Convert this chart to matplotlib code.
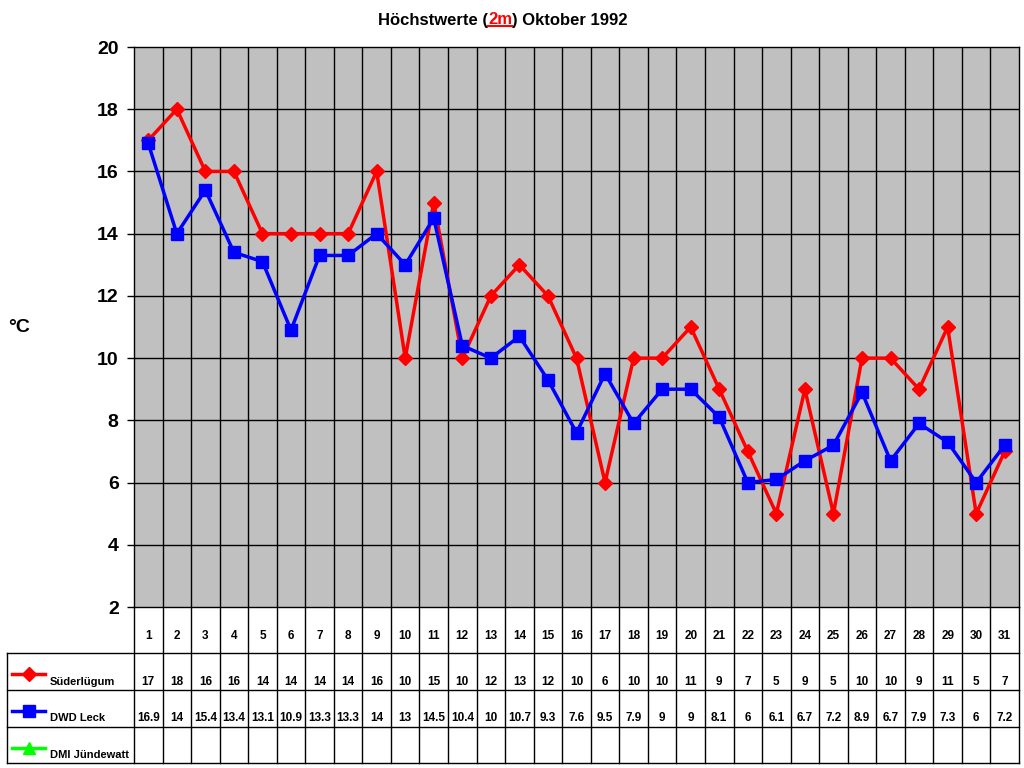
import numpy as np
import matplotlib
matplotlib.use("Agg")
import matplotlib.pyplot as plt
from matplotlib.lines import Line2D

plt.rcParams['font.family'] = ['Liberation Sans', 'DejaVu Sans']

days = list(range(1, 32))
suederluegum = [17, 18, 16, 16, 14, 14, 14, 14, 16, 10, 15, 10, 12, 13, 12, 10,
                6, 10, 10, 11, 9, 7, 5, 9, 5, 10, 10, 9, 11, 5, 7]
dwd_leck = [16.9, 14, 15.4, 13.4, 13.1, 10.9, 13.3, 13.3, 14, 13, 14.5, 10.4, 10,
            10.7, 9.3, 7.6, 9.5, 7.9, 9, 9, 8.1, 6, 6.1, 6.7, 7.2, 8.9, 6.7, 7.9,
            7.3, 6, 7.2]
dmi_juendewatt = [None] * 31
series_names = ["Süderlügum", "DWD Leck", "DMI Jündewatt"]
y_ticks = list(range(2, 21, 2))

W, H = 1024, 768
fig = plt.figure(figsize=(W / 100, H / 100), dpi=100)

def fx(px):
    return px / W

def fy(py):
    return 1 - py / H

L, R, T, B = 134, 1019, 47, 607
ax = fig.add_axes([fx(L), fy(B), fx(R) - fx(L), fy(T) - fy(B)])
ax.set_facecolor('#C0C0C0')
ax.set_xlim(0.5, 31.5)
ax.set_ylim(2, 20)
ax.set_yticks(y_ticks)
ax.set_yticklabels([str(v) for v in y_ticks], fontsize=14, fontweight='bold')
ax.set_xticks([])
for d in np.arange(1.5, 31.5, 1):
    ax.axvline(d, color='black', lw=1, zorder=1)
for v in y_ticks[1:-1]:
    ax.axhline(v, color='black', lw=1, zorder=1)
for s in ax.spines.values():
    s.set_color('black')
    s.set_linewidth(1)
ax.tick_params(axis='y', length=5, width=1, direction='out', pad=6)

ax.plot(days, suederluegum, color='#FF0000', lw=2.5, marker='D', ms=7, zorder=3)
ax.plot(days, dwd_leck, color='#0000FF', lw=2.5, marker='s', ms=9, zorder=4)

fig.text(fx(19), fy(327), "°C", fontsize=14, fontweight='bold', ha='center', va='center')

# table below the plot
tax = fig.add_axes([fx(L), fy(763), fx(R) - fx(L), fy(B) - fy(763)])
tax.set_xlim(0.5, 31.5)
tax.set_ylim(763, B)
tax.axis('off')
dpx = (R - L) / 31.0
left_x = 0.5 - (L - 7) / dpx
rows = [653, 690, 727, 763]
kw = dict(color='black', lw=1, clip_on=False)
for d in np.arange(0.5, 32.5, 1):
    tax.plot([d, d], [B, 763], **kw)
for r in rows:
    tax.plot([left_x, 31.5], [r, r], **kw)
tax.plot([left_x, left_x], [653, 763], **kw)

for d in days:
    tax.text(d, 636, str(d), ha='center', va='center', fontsize=8.5, fontweight='bold')

def fmt(v):
    if v is None:
        return ""
    return ("%g" % v)

styles = [('#FF0000', 'D', 7), ('#0000FF', 's', 9), ('#00FF00', '^', 9)]
row_text_y = [682, 718, 755]
row_line_y = [674, 711, 748]
for series, name, (c, m, ms), ty, ly in zip([suederluegum, dwd_leck, dmi_juendewatt],
                                            series_names, styles, row_text_y, row_line_y):
    for d, v in zip(days, series):
        tax.text(d, ty, fmt(v), ha='center', va='center', fontsize=8.5, fontweight='bold')
    x0 = left_x + 5 / dpx
    x1 = left_x + 38 / dpx
    tax.plot([x0, x1], [ly, ly], color=c, lw=2.5, clip_on=False)
    tax.plot([(x0 + x1) / 2], [ly], color=c, marker=m, ms=ms, clip_on=False, lw=0)
    tax.text(left_x + 43 / dpx, ty, name, ha='left', va='center', fontsize=8, fontweight='bold')

# title in parts, "2m" red and underlined
t1 = fig.text(fx(378), fy(20), "Höchstwerte (", fontsize=12, fontweight='bold',
              ha='left', va='center')
t2 = ax.annotate("2m", xy=(1, 0), xycoords=t1, va='bottom', ha='left',
                 fontsize=12, fontweight='bold', color='#FF0000')
t3 = ax.annotate(") Oktober 1992", xy=(1, 0), xycoords=t2, va='bottom', ha='left',
                 fontsize=12, fontweight='bold')
fig.canvas.draw()
bb = t2.get_window_extent()
uy = bb.y0 + 2
fig.add_artist(Line2D([bb.x0 / W, bb.x1 / W], [uy / H, uy / H], color='#FF0000', lw=1.5,
                      transform=fig.transFigure))

fig.savefig("out.png", dpi=100)
